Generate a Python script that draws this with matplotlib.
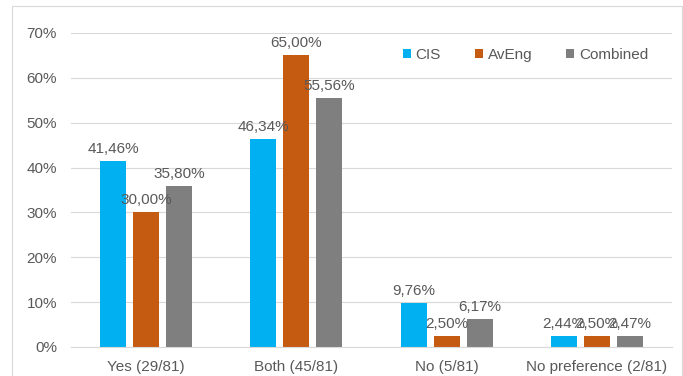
import matplotlib.pyplot as plt
import matplotlib.patches as patches
import numpy as np

categories = ['Yes (29/81)', 'Both (45/81)', 'No (5/81)', 'No preference (2/81)']
cis = [41.46, 46.34, 9.76, 2.44]
aveng = [30.00, 65.00, 2.50, 2.50]
combined = [35.80, 55.56, 6.17, 2.47]
series = [('CIS', cis, '#00B0F0'), ('AvEng', aveng, '#C55A11'), ('Combined', combined, '#7F7F7F')]

plt.rcParams['font.family'] = ['Liberation Sans', 'DejaVu Sans']
txt = '#595959'

fig = plt.figure(figsize=(6.83, 3.76), dpi=100)
ax = fig.add_axes([71/683, 1 - 347/376, (672-71)/683, (347-33)/376])

x = np.arange(len(categories))
w = 0.173
step = 0.22
for i, (name, vals, col) in enumerate(series):
    pos = x + (i - 1) * step
    ax.bar(pos, vals, width=w, color=col, label=name, zorder=2)
    for p, v in zip(pos, vals):
        ax.text(p, v + 1.1, f'{v:.2f}%'.replace('.', ','), ha='center', va='bottom',
                fontsize=11, color=txt, zorder=3)

ax.set_xlim(-0.5, 3.5)
ax.set_ylim(0, 70)
ax.set_yticks(range(0, 71, 10))
ax.set_yticklabels([f'{t}%' for t in range(0, 71, 10)])
ax.set_xticks(x)
ax.set_xticklabels(categories)
ax.yaxis.grid(True, color='#D9D9D9', linewidth=0.8, zorder=0)
ax.tick_params(length=0, labelsize=11, labelcolor=txt)
ax.tick_params(axis='y', pad=10)
ax.tick_params(axis='x', pad=9)
for s in ['top', 'right', 'left']:
    ax.spines[s].set_visible(False)
ax.spines['bottom'].set_color('#D9D9D9')

leg = ax.legend(loc='center', bbox_to_anchor=(0.756, 0.93), ncol=3, frameon=False,
                fontsize=11, handlelength=0.55, handleheight=0.55, columnspacing=2.2,
                handletextpad=0.3)
for t in leg.get_texts():
    t.set_color(txt)

fig.patches.append(patches.Rectangle((12/683, -0.05), (682-12)/683, 1 - 6/376 + 0.05,
                                     transform=fig.transFigure, fill=False,
                                     edgecolor='#D9D9D9', linewidth=0.8))

fig.savefig('out.png', dpi=100)
